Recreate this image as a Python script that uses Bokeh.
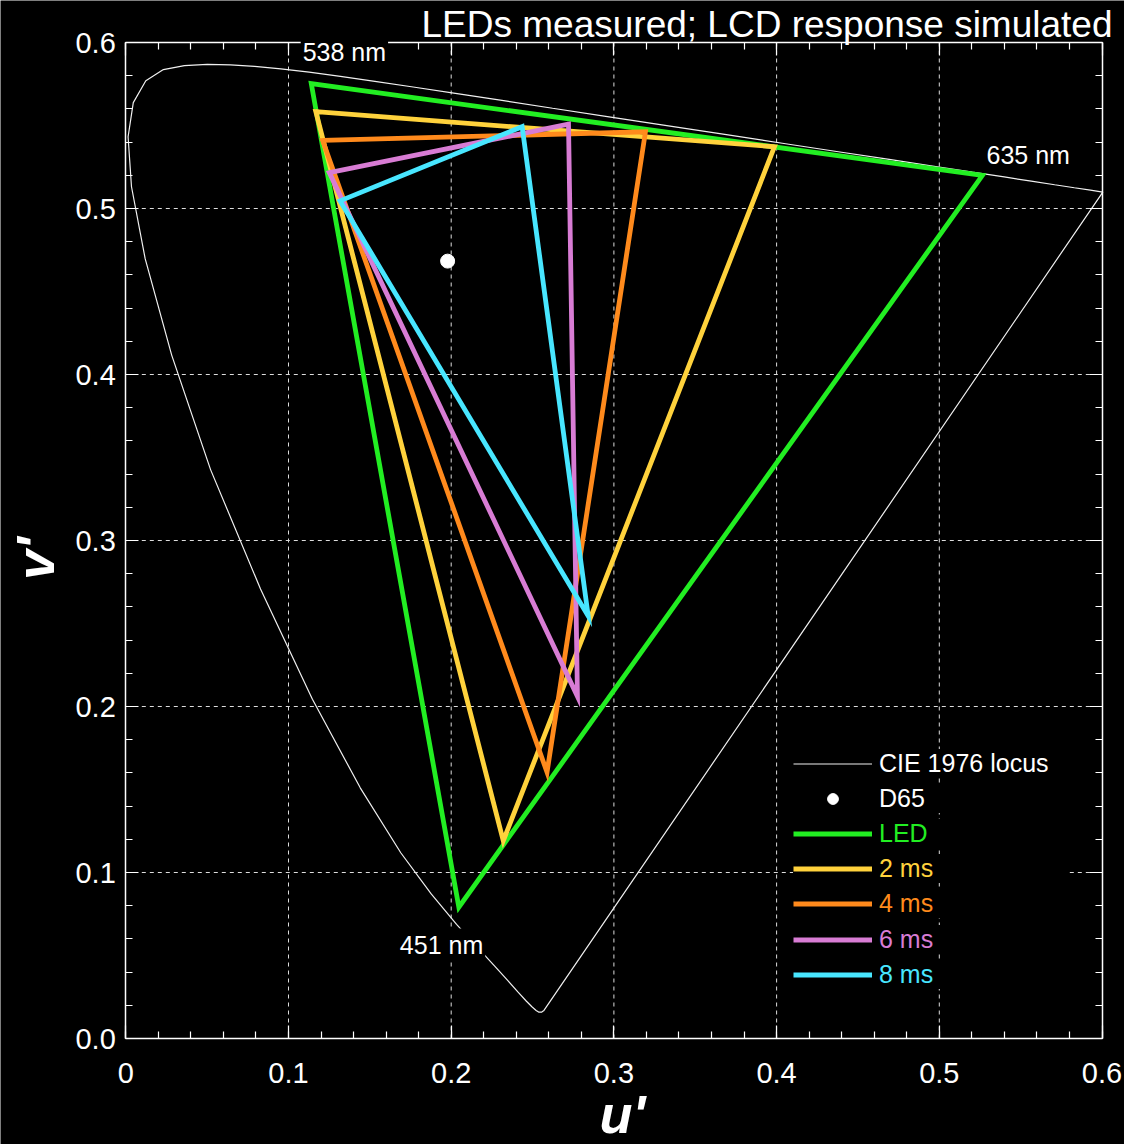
from math import pi

from bokeh.embed import file_html
from bokeh.models import FixedTicker, Label, Legend, LegendItem, LinearAxis
from bokeh.plotting import figure
from bokeh.resources import INLINE

FONT = "Liberation Sans"

# CIE 1976 UCS spectral locus, 380-650 nm in 5 nm steps (u', v')
locus_nm = list(range(380, 655, 5))
locus_u = [0.2568, 0.2566, 0.2564, 0.2561, 0.2557, 0.2552, 0.2545, 0.2537,
           0.2522, 0.2496, 0.2461, 0.2411, 0.2347, 0.2266, 0.2161, 0.2033,
           0.1877, 0.1690, 0.1441, 0.1147, 0.0828, 0.0521, 0.0282, 0.0119,
           0.0035, 0.0014, 0.0046, 0.0123, 0.0231, 0.0360, 0.0501, 0.0643,
           0.0792, 0.0953, 0.1127, 0.1319, 0.1531, 0.1766, 0.2026, 0.2312,
           0.2623, 0.2960, 0.3315, 0.3681, 0.4035, 0.4379, 0.4692, 0.4968,
           0.5203, 0.5399, 0.5565, 0.5709, 0.5830, 0.5929, 0.6005]
locus_v = [0.0166, 0.0166, 0.0163, 0.0163, 0.0159, 0.0159, 0.0159, 0.0159,
           0.0169, 0.0191, 0.0226, 0.0279, 0.0350, 0.0437, 0.0549, 0.0688,
           0.0871, 0.1119, 0.1510, 0.2044, 0.2708, 0.3427, 0.4117, 0.4698,
           0.5131, 0.5432, 0.5638, 0.5770, 0.5837, 0.5861, 0.5868, 0.5865,
           0.5856, 0.5841, 0.5821, 0.5796, 0.5766, 0.5732, 0.5694, 0.5651,
           0.5604, 0.5554, 0.5501, 0.5446, 0.5393, 0.5342, 0.5296, 0.5254,
           0.5219, 0.5190, 0.5165, 0.5143, 0.5125, 0.5111, 0.5099]

# D65 white point
d65_u = [0.1978]
d65_v = [0.4683]

# Gamut triangles (green, red, blue primaries): measured LEDs and simulated LCD
series_names = ["LED", "2 ms", "4 ms", "6 ms", "8 ms"]
series_colors = ["#22ee22", "#ffd23c", "#ff8a1c", "#d87cd4", "#48e6ff"]
gamut_u = [
    [0.1140, 0.5265, 0.2047],
    [0.1168, 0.3987, 0.2320],
    [0.1210, 0.3194, 0.2589],
    [0.1251, 0.2721, 0.2776],
    [0.1317, 0.2436, 0.2842],
]
gamut_v = [
    [0.5752, 0.5200, 0.0791],
    [0.5583, 0.5372, 0.1191],
    [0.5410, 0.5462, 0.1604],
    [0.5216, 0.5508, 0.2061],
    [0.5046, 0.5493, 0.2545],
]

# Wavelength annotations (text, left edge u', vertical centre v')
wl_text = ["538 nm", "635 nm", "451 nm"]
wl_u = [0.1075, 0.5278, 0.1672]
wl_v = [0.5940, 0.5324, 0.0566]

title_text = "LEDs measured; LCD response simulated"

# Axis ticks
u_ticks = [0.0, 0.1, 0.2, 0.3, 0.4, 0.5, 0.6]
u_tick_labels = ["0", "0.1", "0.2", "0.3", "0.4", "0.5", "0.6"]
v_ticks = [0.0, 0.1, 0.2, 0.3, 0.4, 0.5, 0.6]
v_tick_labels = ["0.0", "0.1", "0.2", "0.3", "0.4", "0.5", "0.6"]
minor_step = 0.02

# Canvas size and where the u'v' box sits on it (pixels)
W, H = 1124, 1144
BOX_L, BOX_R, BOX_T, BOX_B = 125.3, 1101.5, 42.0, 1038.0
U0, U1 = u_ticks[0], u_ticks[-1]
V0, V1 = v_ticks[0], v_ticks[-1]
sx = (BOX_R - BOX_L) / (U1 - U0)
sy = (BOX_B - BOX_T) / (V1 - V0)
x_range = (U0 - BOX_L / sx, U1 + (W - BOX_R) / sx)
y_range = (V0 - (H - BOX_B) / sy, V1 + BOX_T / sy)


def px_u(px):
    return U0 + (px - BOX_L) / sx


def px_v(py):
    return V0 + (BOX_B - py) / sy


p = figure(width=W, height=H, x_range=x_range, y_range=y_range,
           output_backend="svg", toolbar_location=None,
           background_fill_color="black", border_fill_color="black",
           outline_line_color=None, min_border=0,
           x_axis_location=None, y_axis_location=None)
p.grid.visible = False

minor_ticks = [round(i * minor_step, 2) for i in range(int(round(U1 / minor_step)) + 1)]


def make_axis(ticks, labels, loc):
    ax = LinearAxis(fixed_location=loc, bounds=(ticks[0], ticks[-1]))
    ax.ticker = FixedTicker(ticks=ticks, minor_ticks=minor_ticks)
    ax.major_label_overrides = {t: s for t, s in zip(ticks, labels)}
    ax.axis_line_color = "white"
    ax.axis_line_width = 1.5
    ax.major_tick_line_color = "white"
    ax.minor_tick_line_color = "white"
    ax.major_tick_line_width = 1.2
    ax.minor_tick_line_width = 1.2
    ax.major_tick_in = 13
    ax.major_tick_out = 0
    ax.minor_tick_in = 7
    ax.minor_tick_out = 0
    ax.major_label_text_color = "white"
    ax.major_label_text_font = FONT
    ax.major_label_text_font_size = "29px"
    return ax


bottom_axis = make_axis(u_ticks, u_tick_labels, V0)
bottom_axis.major_label_standoff = 24
left_axis = make_axis(v_ticks, v_tick_labels, U0)
left_axis.major_label_standoff = 10
# top and right frame axes carry ticks only
top_axis = make_axis(u_ticks, [""] * len(u_ticks), V1)
right_axis = make_axis(v_ticks, [""] * len(v_ticks), U1)
p.add_layout(bottom_axis, "below")
p.add_layout(left_axis, "left")
p.add_layout(top_axis, "above")
p.add_layout(right_axis, "right")

# Dashed grid inside the box at the inner major ticks
grid_style = dict(line_color="#dddddd", line_width=1, line_dash="4 4")
inner_u = u_ticks[1:-1]
inner_v = v_ticks[1:-1]
p.segment(x0=inner_u, y0=[V0] * len(inner_u), x1=inner_u, y1=[V1] * len(inner_u),
          **grid_style)
p.segment(x0=[U0] * len(inner_v), y0=inner_v, x1=[U1] * len(inner_v), y1=inner_v,
          **grid_style)

# Spectral locus, closed by the line of purples back to 380 nm
locus = p.line(locus_u + [locus_u[0]], locus_v + [locus_v[0]],
               line_color="#f0f0f0", line_width=1.2)
d65 = p.scatter(d65_u, d65_v, size=14, fill_color="white", line_color="white")

gamut_renderers = []
for name, color, us, vs in zip(series_names, series_colors, gamut_u, gamut_v):
    # run once round the triangle and on to the second vertex so every corner is joined
    r = p.line(us + us[:2], vs + vs[:2], line_color=color, line_width=4.8,
               line_join="miter")
    gamut_renderers.append(r)

for txt, u, v in zip(wl_text, wl_u, wl_v):
    p.add_layout(Label(x=u, y=v, text=txt, text_font=FONT, text_font_size="25px",
                       text_color="white", text_align="left",
                       text_baseline="middle",
                       background_fill_color="black", padding=2))

p.add_layout(Label(x=px_u(1112), y=px_v(24.2), text=title_text, text_font=FONT,
                   text_font_size="37px", text_color="white",
                   text_align="right", text_baseline="middle"))

p.add_layout(Label(x=px_u(622), y=px_v(1113), text="u'", text_font=FONT,
                   text_font_size="54px", text_font_style="bold italic",
                   text_color="white", text_align="center",
                   text_baseline="middle"))
p.add_layout(Label(x=px_u(34), y=px_v(558), text="v'", text_font=FONT,
                   text_font_size="54px", text_font_style="bold italic",
                   text_color="white", text_align="center",
                   text_baseline="middle", angle=pi / 2))

# Legend: one block per entry so each label takes its series colour
legend_entries = [("CIE 1976 locus", locus, "white"), ("D65", d65, "white")]
legend_entries += list(zip(series_names, gamut_renderers, series_colors))

row_top_center = 760.0
row_step = 35.2
row_h = 35.0
pad = 4
glyph_left = 797
for i, (name, rend, color) in enumerate(legend_entries):
    cy = row_top_center + i * row_step
    loc = (glyph_left - pad, H - (cy + row_h / 2))
    lg = Legend(items=[LegendItem(label=name, renderers=[rend])],
                location=loc, orientation="vertical",
                label_text_color=color, label_text_font=FONT,
                label_text_font_size="25px",
                glyph_width=79, glyph_height=27, label_height=27,
                label_width=190, label_standoff=7,
                padding=pad, margin=0, spacing=0,
                background_fill_color="black", background_fill_alpha=1.0,
                border_line_color=None)
    p.add_layout(lg)

open("out.html", "w").write(file_html(p, INLINE))
